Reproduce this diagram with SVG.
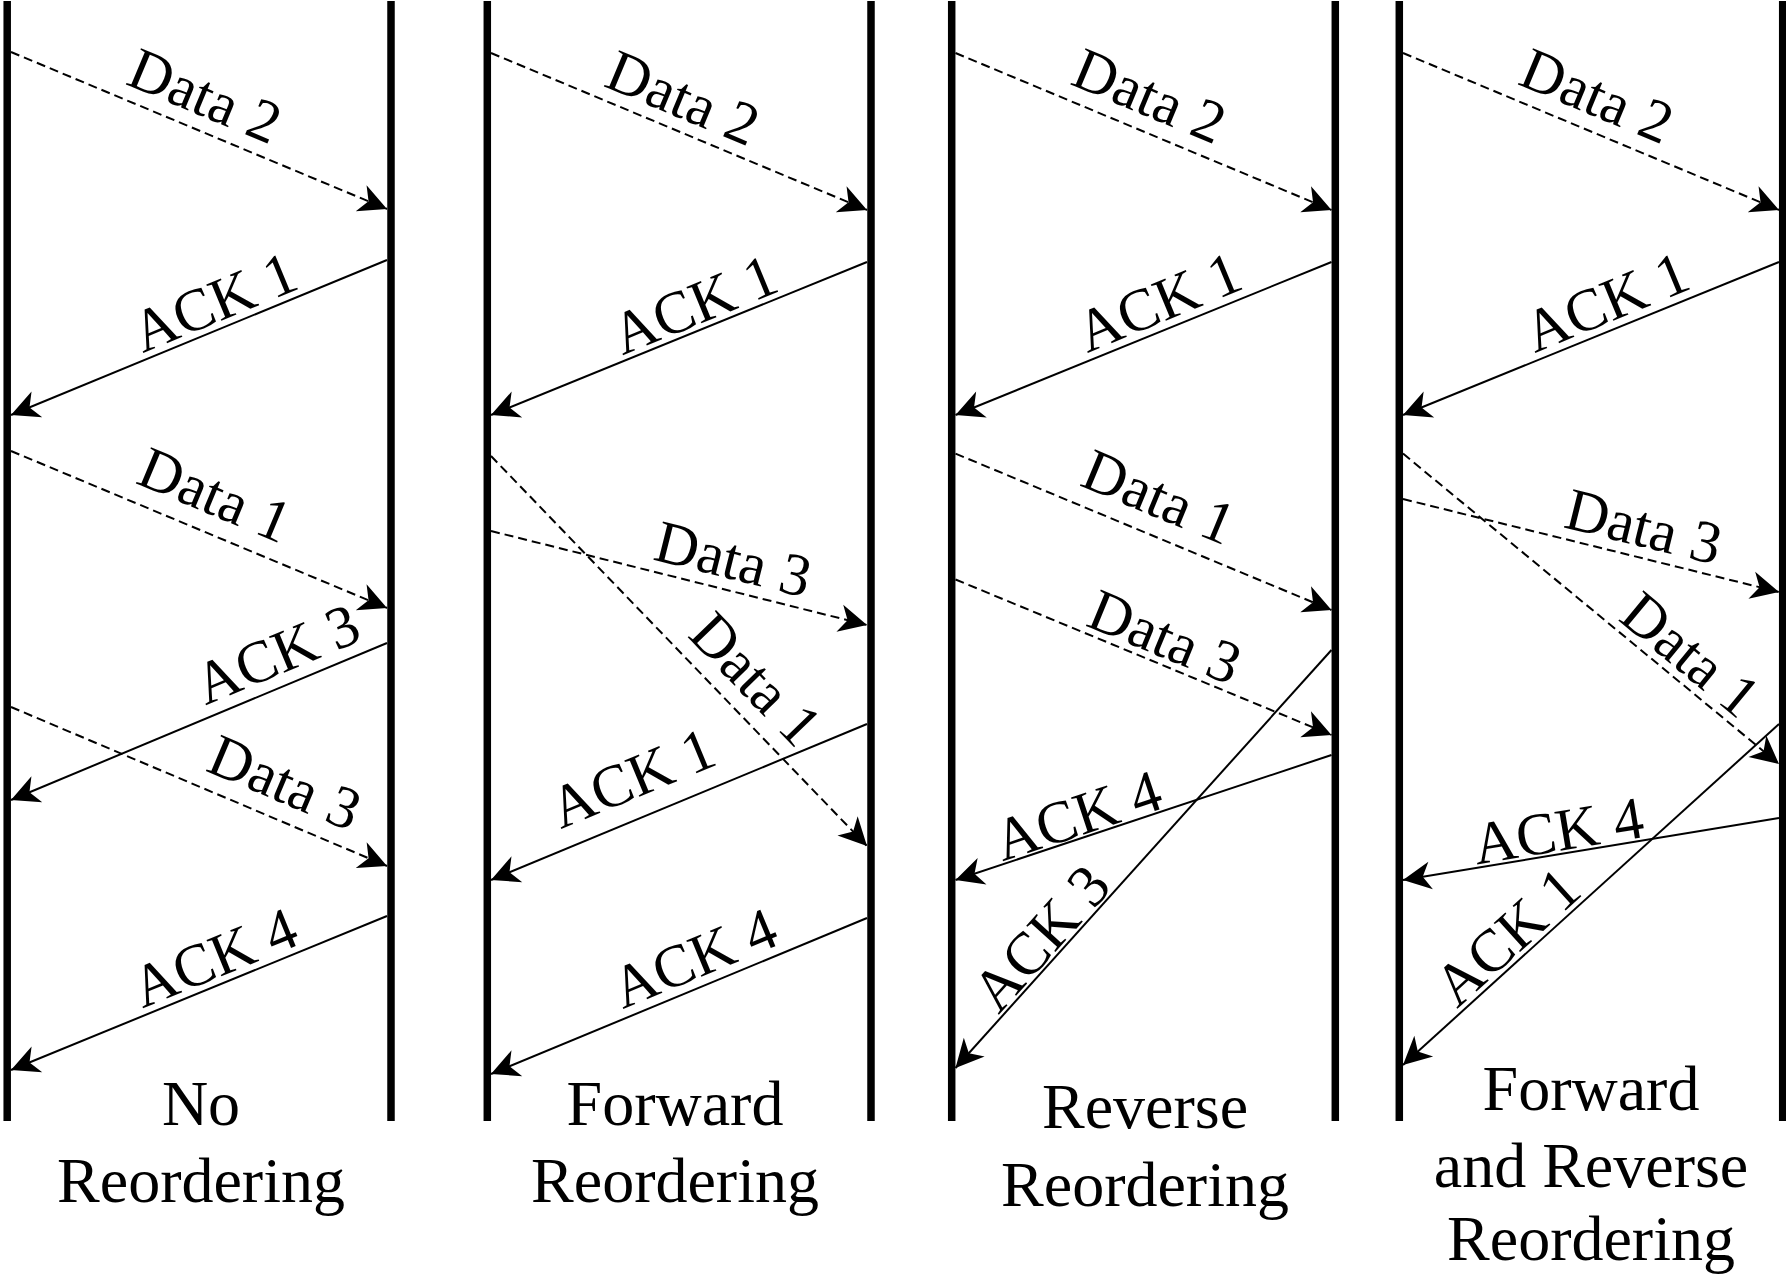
<svg xmlns="http://www.w3.org/2000/svg" width="1786" height="1277" viewBox="0 0 1786 1277">
  <defs>
    <style>
      .life { stroke: #000; stroke-width: 7.5; fill: none; }
      .msg { stroke: #000; stroke-width: 2; fill: none; marker-end: url(#head); }
      .data { stroke-dasharray: 9 5; }
      .lbl { font-family: "Liberation Serif", "Times New Roman", serif; font-size: 60px; fill: #000; text-anchor: middle; }
      .cap { font-family: "Liberation Serif", "Times New Roman", serif; font-size: 64px; fill: #000; text-anchor: middle; }
    </style>
    <!-- swept-back filled arrowhead, tip at the reference point -->
    <marker id="head" markerUnits="userSpaceOnUse" markerWidth="32" markerHeight="32" refX="29" refY="16" orient="auto" overflow="visible">
      <path d="M29,16 L1,2 L9,16 L1,30 Z" fill="#000"/>
    </marker>
  </defs>
  <rect width="1786" height="1277" fill="#fff"/>

  <!-- lifelines: sender (left) and receiver (right) for each scenario -->
  <g id="col1-sender"><line class="life" x1="7.2" y1="1" x2="7.2" y2="1121"/></g>
  <g id="col1-receiver"><line class="life" x1="391" y1="1" x2="391" y2="1121"/></g>
  <g id="col2-sender"><line class="life" x1="487.3" y1="1" x2="487.3" y2="1121"/></g>
  <g id="col2-receiver"><line class="life" x1="871" y1="1" x2="871" y2="1121"/></g>
  <g id="col3-sender"><line class="life" x1="951.7" y1="1" x2="951.7" y2="1121"/></g>
  <g id="col3-receiver"><line class="life" x1="1335.3" y1="1" x2="1335.3" y2="1121"/></g>
  <g id="col4-sender"><line class="life" x1="1399.3" y1="1" x2="1399.3" y2="1121"/></g>
  <g id="col4-receiver"><line class="life" x1="1782.7" y1="1" x2="1782.7" y2="1121"/></g>

  <!-- messages: dashed = data segments, solid = acknowledgements -->
  <g id="connectors">
    <!-- no reordering -->
    <line class="msg data" x1="11" y1="52" x2="387" y2="209"/>
    <line class="msg" x1="387" y1="260" x2="11" y2="415"/>
    <line class="msg data" x1="11" y1="451" x2="387" y2="608"/>
    <line class="msg" x1="387" y1="643" x2="11" y2="800"/>
    <line class="msg data" x1="11" y1="707" x2="387" y2="866"/>
    <line class="msg" x1="387" y1="916" x2="11" y2="1070"/>
    <!-- forward reordering -->
    <line class="msg data" x1="491" y1="53" x2="867" y2="210"/>
    <line class="msg" x1="867" y1="262" x2="491" y2="415"/>
    <line class="msg data" x1="491" y1="456" x2="867" y2="846"/>
    <line class="msg data" x1="491" y1="531" x2="867" y2="625"/>
    <line class="msg" x1="867" y1="724" x2="491" y2="880"/>
    <line class="msg" x1="867" y1="918" x2="491" y2="1074"/>
    <!-- reverse reordering -->
    <line class="msg data" x1="955.5" y1="53" x2="1331.5" y2="210"/>
    <line class="msg" x1="1331.5" y1="262" x2="955.5" y2="415"/>
    <line class="msg data" x1="955.5" y1="453.6" x2="1331.5" y2="610"/>
    <line class="msg data" x1="955.5" y1="579.5" x2="1331.5" y2="735"/>
    <line class="msg" x1="1331.5" y1="650" x2="955.5" y2="1068"/>
    <line class="msg" x1="1331.5" y1="755" x2="955.5" y2="880"/>
    <!-- forward and reverse reordering -->
    <line class="msg data" x1="1403" y1="53" x2="1779" y2="210"/>
    <line class="msg" x1="1779" y1="262" x2="1403" y2="415"/>
    <line class="msg data" x1="1403" y1="453.6" x2="1779" y2="764"/>
    <line class="msg data" x1="1403" y1="499" x2="1779" y2="592"/>
    <line class="msg" x1="1779" y1="724" x2="1403" y2="1065"/>
    <line class="msg" x1="1779" y1="818" x2="1403" y2="880"/>

    <!-- message labels -->
    <text class="lbl" transform="translate(197.3,114.4) rotate(22.7)">Data 2</text>
    <text class="lbl" transform="translate(222,320.5) rotate(-22.5)">ACK 1</text>
    <text class="lbl" transform="translate(207.3,513.4) rotate(22.7)">Data 1</text>
    <text class="lbl" transform="translate(284.7,672.5) rotate(-22.6)">ACK 3</text>
    <text class="lbl" transform="translate(277.2,801) rotate(22.9)">Data 3</text>
    <text class="lbl" transform="translate(222,976) rotate(-22.2)">ACK 4</text>

    <text class="lbl" transform="translate(675.3,116.4) rotate(22.7)">Data 2</text>
    <text class="lbl" transform="translate(702,323) rotate(-22.3)">ACK 1</text>
    <text class="lbl" transform="translate(728.5,578.5) rotate(14)">Data 3</text>
    <text class="lbl" transform="translate(741.5,693) rotate(46)">Data 1</text>
    <text class="lbl" transform="translate(640,796.5) rotate(-22.5)">ACK 1</text>
    <text class="lbl" transform="translate(702,976.5) rotate(-22.5)">ACK 4</text>

    <text class="lbl" transform="translate(1141.8,114.4) rotate(22.7)">Data 2</text>
    <text class="lbl" transform="translate(1166.5,320.5) rotate(-22.5)">ACK 1</text>
    <text class="lbl" transform="translate(1151.3,515.4) rotate(22.5)">Data 1</text>
    <text class="lbl" transform="translate(1157.3,655.4) rotate(22.4)">Data 3</text>
    <text class="lbl" transform="translate(1084,834.5) rotate(-18.4)">ACK 4</text>
    <text class="lbl" transform="translate(1056,951.4) rotate(-48)">ACK 3</text>

    <text class="lbl" transform="translate(1589.3,114.4) rotate(22.7)">Data 2</text>
    <text class="lbl" transform="translate(1614,320.5) rotate(-22.5)">ACK 1</text>
    <text class="lbl" transform="translate(1639,546) rotate(13.9)">Data 3</text>
    <text class="lbl" transform="translate(1678,670) rotate(39.6)">Data 1</text>
    <text class="lbl" transform="translate(1561.5,850.5) rotate(-9.4)">ACK 4</text>
    <text class="lbl" transform="translate(1520.5,951.5) rotate(-42.2)">ACK 1</text>
  </g>

  <!-- scenario captions -->
  <g id="caption-no">
    <text class="cap" x="201" y="1125">No</text>
    <text class="cap" x="201" y="1202">Reordering</text>
  </g>
  <g id="caption-forward">
    <text class="cap" x="675" y="1125">Forward</text>
    <text class="cap" x="675" y="1202">Reordering</text>
  </g>
  <g id="caption-reverse">
    <text class="cap" x="1145" y="1128">Reverse</text>
    <text class="cap" x="1145" y="1206">Reordering</text>
  </g>
  <g id="caption-both">
    <text class="cap" x="1591" y="1110">Forward</text>
    <text class="cap" x="1591" y="1187">and Reverse</text>
    <text class="cap" x="1591" y="1260">Reordering</text>
  </g>
</svg>
